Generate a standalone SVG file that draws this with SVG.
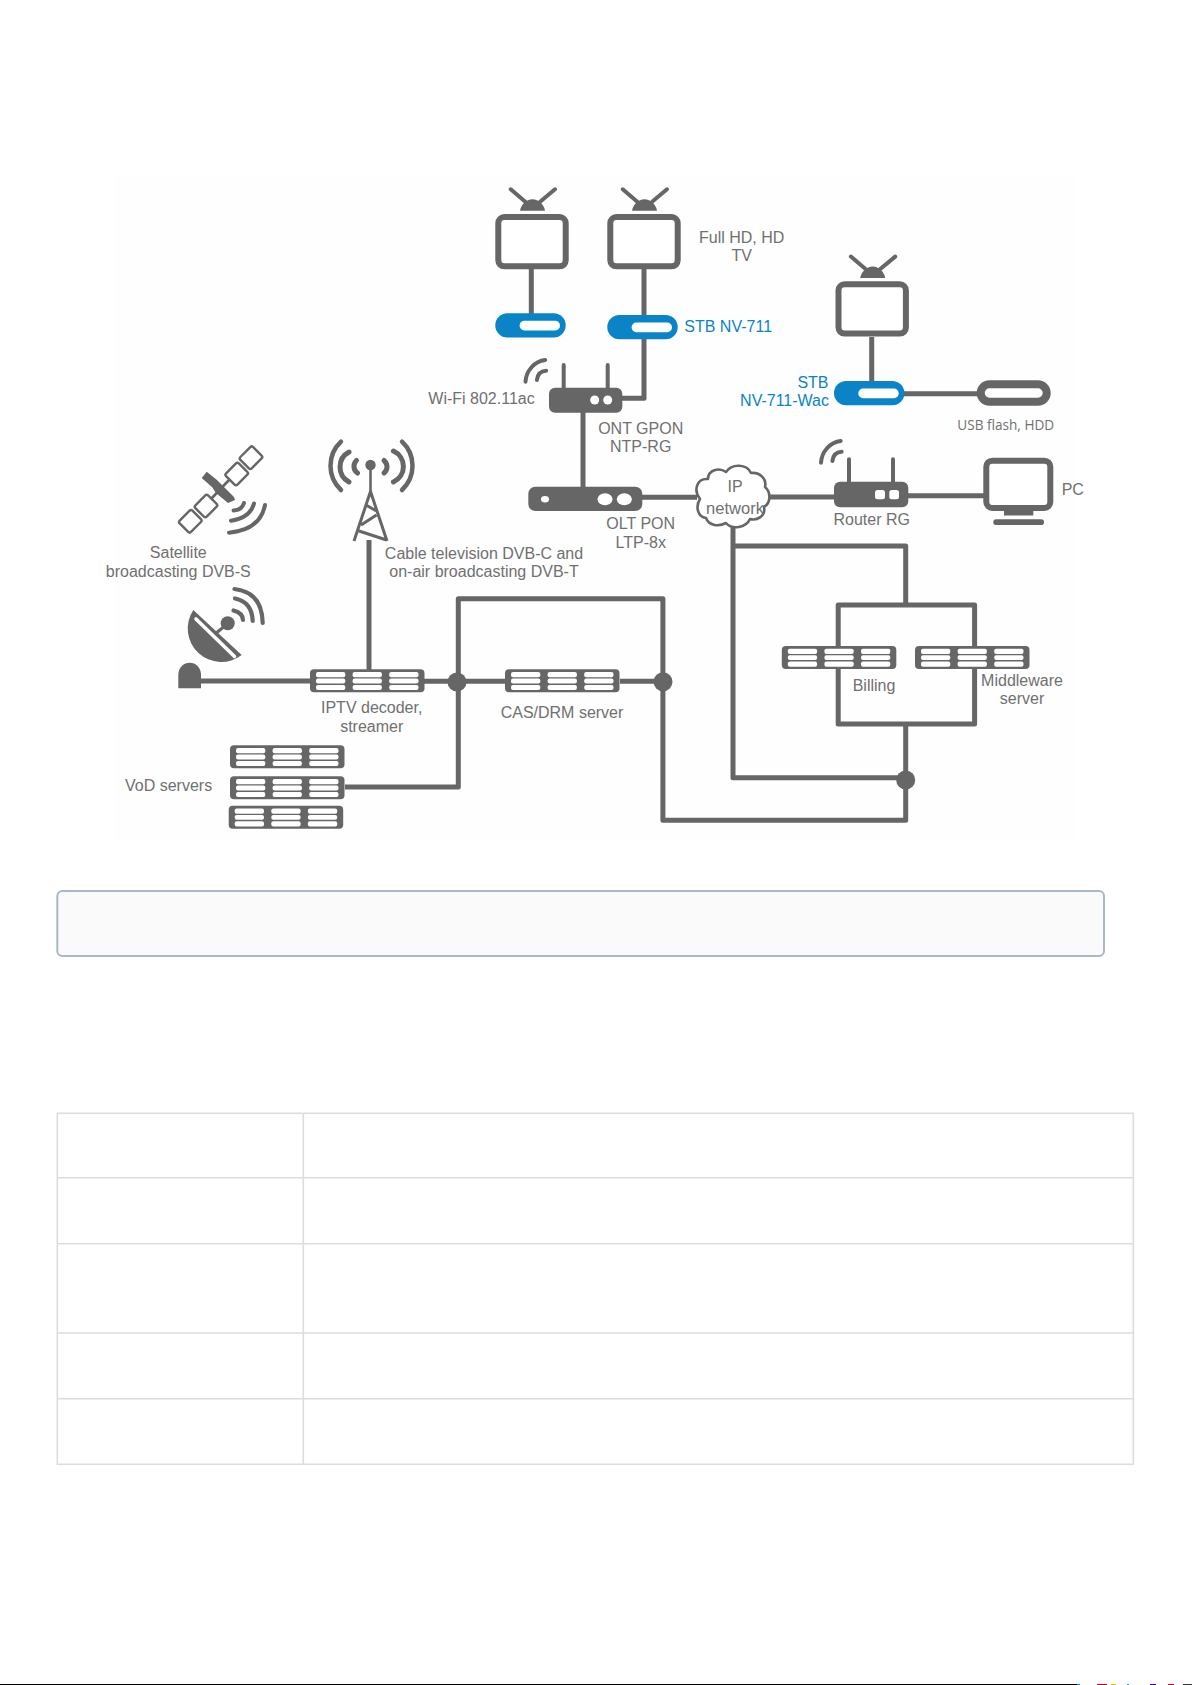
<svg xmlns="http://www.w3.org/2000/svg" xmlns:xlink="http://www.w3.org/1999/xlink" width="1192" height="1685" viewBox="0 0 1192 1685">
<style>
text{font-family:"Liberation Sans",Arial,sans-serif;font-size:16px;fill:#707070}
.c{text-anchor:middle}
text.b{fill:#0a84c6}
.r{text-anchor:end}
.ln{fill:none;stroke:#666;stroke-width:5;stroke-linejoin:round}
.arc{fill:none;stroke:#666;stroke-linecap:round}
.d{fill:#666}
.w{fill:#fff}
.tb{fill:none;stroke:#ddd;stroke-width:1.6}
</style>
<defs>
<g id="server">
<rect width="114.5" height="23" rx="4" class="d"/>
<g class="w">
<rect x="6" y="2.8" width="29.3" height="5.2" rx="2"/><rect x="6" y="9.3" width="29.3" height="4.8" rx="2"/><rect x="6" y="15.6" width="29.3" height="5.2" rx="2"/>
<rect x="42.6" y="2.8" width="29.3" height="5.2" rx="2"/><rect x="42.6" y="9.3" width="29.3" height="4.8" rx="2"/><rect x="42.6" y="15.6" width="29.3" height="5.2" rx="2"/>
<rect x="79.2" y="2.8" width="29.3" height="5.2" rx="2"/><rect x="79.2" y="9.3" width="29.3" height="4.8" rx="2"/><rect x="79.2" y="15.6" width="29.3" height="5.2" rx="2"/>
</g>
</g>
<g id="tv">
<rect x="3" y="3" width="67.4" height="49.3" rx="6" fill="#fff" stroke="#666" stroke-width="6"/>
<path d="M15.4-24.7 30-12.3M59.7-24.7 44.8-12.3" fill="none" stroke="#666" stroke-width="4" stroke-linecap="round"/>
<path d="M24.7-3.3C25.5-9 31-14.7 37.2-14.7S48.9-9 49.7-3.3Z" class="d"/>
</g>
<g id="stb">
<rect width="70.4" height="24.3" rx="12" fill="#0a84c6"/>
<rect x="24.3" y="7.5" width="40.4" height="9.7" rx="4.8" class="w"/>
</g>
<path id="wifi" class="arc" d="M0 21.7C.5 11 9 1 19.7 0M11.4 20C12 14.5 15 11 20.7 10.7" stroke-width="4"/>
<rect id="panel" x="-9" y="-8" width="18" height="16" rx="2" fill="#fff" stroke="#666" stroke-width="2.4"/>
</defs>

<rect width="1192" height="1685" fill="#fff"/>
<rect x="115" y="175" width="960" height="665" fill="#fefefe"/>

<g id="connectors" class="ln">
<path d="M531.3 269V315M644 269V315M644 339V398.3H622M583 412V487M642 497.3H697M770 497H835M908 495.7H985M871.7 337V382M904 393.7H978"/>
<path d="M733 527V777.7H905.7M733 546H905.7V605M838.2 646V605H974.6V646M838.2 669V724H974.6V669M905.7 724V820.3H662.9V598.7H458.3V787H345"/>
<path d="M201 681H310M424 681.3H505M620 681.3H663M369 540V670"/>
</g>

<g id="tv1"><use xlink:href="#tv" x="495.3" y="214"/><use xlink:href="#stb" x="495.3" y="313.3"/></g>
<g id="tv2"><use xlink:href="#tv" x="607.3" y="214"/><use xlink:href="#stb" x="607.3" y="315"/></g>
<g id="tv3"><use xlink:href="#tv" x="835.5" y="281.3"/><use xlink:href="#stb" x="834" y="381"/></g>

<g id="usb">
<rect x="980.7" y="384.3" width="66" height="17.4" rx="8.7" fill="#fff" stroke="#666" stroke-width="8"/>
</g>

<g id="ont">
<path d="M563.7 365V390M607.7 365V390" class="arc" stroke-width="4"/>
<rect x="549" y="387.7" width="73.3" height="25" rx="6" class="d"/>
<circle cx="594.7" cy="400" r="4.5" class="w"/><circle cx="607.7" cy="400" r="4.5" class="w"/>
<use xlink:href="#wifi" x="525.5" y="360"/>
</g>

<g id="olt">
<rect x="528.3" y="486.7" width="114" height="24.3" rx="7" class="d"/>
<ellipse cx="545" cy="499.3" rx="4" ry="3.2" class="w"/><ellipse cx="605" cy="499.3" rx="7.5" ry="6" class="w"/><ellipse cx="624.3" cy="499.3" rx="7.5" ry="6" class="w"/>
</g>

<g id="cloud">
<path d="M706 518C698 517 695 507 700 499C693 490 697 478 708 479C708 470 719 467 726 472C732 463 747 464 751 473C760 472 767 479 765 487C771 492 771 503 764 507C766 516 757 521 750 519C746 528 732 530 726 523C719 527 709 526 706 518Z" fill="#fff" stroke="#666" stroke-width="2.6" stroke-linejoin="round"/>
</g>

<g id="router">
<path d="M849 459.3V484M893 459.3V484" class="arc" stroke-width="4"/>
<rect x="834" y="481.7" width="74.3" height="25.6" rx="6" class="d"/>
<rect x="875" y="490" width="10" height="9.3" rx="2.5" class="w"/><rect x="889.3" y="490" width="9.7" height="9.3" rx="2.5" class="w"/>
<use xlink:href="#wifi" x="821" y="441"/>
</g>

<g id="pc">
<rect x="986.3" y="460.7" width="64" height="47.3" rx="6" fill="#fff" stroke="#666" stroke-width="6"/>
<rect x="1004" y="510" width="29.3" height="5.5" class="d"/>
<rect x="993.3" y="519.3" width="50.7" height="5.7" rx="2.8" class="d"/>
</g>

<g id="satellite">
<path d="M211 499 229 480" stroke="#666" stroke-width="2.6"/>
<use xlink:href="#panel" transform="translate(190.3 521.3) rotate(-45)"/>
<use xlink:href="#panel" transform="translate(206 506) rotate(-45)"/>
<use xlink:href="#panel" transform="translate(236.7 474) rotate(-45)"/>
<use xlink:href="#panel" transform="translate(251 457.7) rotate(-45)"/>
<path d="M206.7 471.7 201.7 478 212 487 216 493 228 503 235 500 234 497 222 485 217 480Z" class="d"/>
<g class="arc" stroke-width="4">
<path d="M233.5 510.5Q242 510 244 503"/>
<path d="M231 520.7Q250 518 254 503.5"/>
<path d="M229 532.7Q260 530 265 505"/>
</g>
</g>

<g id="tower">
<circle cx="370.5" cy="465" r="5.2" class="d"/>
<path d="M370.5 465V492" stroke="#666" stroke-width="2.6"/>
<path d="M354 541 370.5 491.5 387 541M366 505 376.5 511M376.5 515 361 525M359 531 386.5 540" fill="none" stroke="#666" stroke-width="3" stroke-linejoin="round"/>
<g class="arc">
<path d="M341 441.7A33 33 0 0 0 341 490M402 441.7A33 33 0 0 1 402 490" stroke-width="4.5"/>
<path d="M349 452A17 17 0 0 0 349 482M393.4 451A17 17 0 0 1 393.4 482" stroke-width="5"/>
<path d="M356.5 460.5A8 8 0 0 0 357.5 473M384 460.5A8 8 0 0 1 384 473" stroke-width="5"/>
</g>
</g>

<g id="dish">
<path d="M193.3 610 241.7 655A33.5 33.5 0 0 1 193.3 610Z" class="d"/>
<path d="M196 619 234.5 656.5" stroke="#fff" stroke-width="3.6" stroke-linecap="round"/>
<circle cx="227.7" cy="623.3" r="7" class="d"/>
<path d="M215 634 226 625" stroke="#666" stroke-width="3"/>
<path d="M178.3 688.3V675C178.3 667 184 662.7 189.7 662.7S201 667 201 675V688.3Z" class="d"/>
<g class="arc" stroke-width="4.2">
<path d="M233.5 610.5Q243 613 243 620"/>
<path d="M235 598.5Q252 602 252.7 621"/>
<path d="M234.5 589Q262 592 262.7 623"/>
</g>
</g>

<g id="nodes-servers">
<use xlink:href="#server" x="310" y="669.3"/>
<use xlink:href="#server" x="505" y="669.3"/>
<use xlink:href="#server" x="781.8" y="646"/>
<use xlink:href="#server" x="915" y="646"/>
<use xlink:href="#server" x="230" y="745.3"/>
<use xlink:href="#server" x="230" y="776.3"/>
<use xlink:href="#server" x="228.7" y="805.7"/>
<circle cx="457" cy="682" r="9.5" class="d"/>
<circle cx="663" cy="681.7" r="9.5" class="d"/>
<circle cx="905.7" cy="780" r="9.5" class="d"/>
</g>

<g id="labels">
<text class="c" x="741.7" y="243.3">Full HD, HD</text>
<text class="c" x="741.7" y="261.3">TV</text>
<text class="b" x="684.3" y="332.3">STB NV-711</text>
<text class="b r" x="828.5" y="387.7">STB</text>
<text class="b r" x="829" y="406">NV-711-Wac</text>
<text x="428.3" y="404.3">Wi-Fi 802.11ac</text>
<text class="c" x="640.7" y="434">ONT GPON</text>
<text class="c" x="640.7" y="452">NTP-RG</text>
<text class="c" x="640.7" y="529">OLT PON</text>
<text class="c" x="640.7" y="547.7">LTP-8x</text>
<text class="c" x="735" y="492.3">IP</text>
<text class="c" x="735" y="514" style="font-size:16.5px">network</text>
<text x="957.3" y="430" style="font-family:'Open Sans',sans-serif;font-size:13.6px">USB flash, HDD</text>
<text class="c" x="871.7" y="525">Router RG</text>
<text x="1061.7" y="495">PC</text>
<text class="c" x="178.3" y="558.3">Satellite</text>
<text class="c" x="178.3" y="576.7">broadcasting DVB-S</text>
<text class="c" x="484" y="559.3">Cable television DVB-C and</text>
<text class="c" x="484" y="577">on-air broadcasting DVB-T</text>
<text class="c" x="371.7" y="713.3">IPTV decoder,</text>
<text class="c" x="371.7" y="731.7">streamer</text>
<text class="c" x="562" y="718">CAS/DRM server</text>
<text x="125" y="791">VoD servers</text>
<text class="c" x="874" y="691">Billing</text>
<text class="c" x="1022" y="686">Middleware</text>
<text class="c" x="1022" y="704">server</text>
</g>

<rect id="callout" x="57.3" y="891" width="1046.7" height="65" rx="5" fill="#fafafa" stroke="#a8b8ca" stroke-width="2"/>

<g id="table" class="tb">
<rect x="57.3" y="1113.3" width="1076" height="351"/>
<path d="M303.3 1113.3V1464.3M57.3 1177.700H1133.3M57.3 1243.7H1133.3M57.3 1333H1133.3M57.3 1398.7H1133.3"/>
</g>

<g id="edge">
<rect x="0" y="1684" width="1077" height="1" fill="#000"/>
<rect x="1077" y="1684" width="3" height="1" fill="#08c"/>
<rect x="1097" y="1684" width="10" height="1" fill="#c03"/>
<rect x="1111" y="1684" width="5" height="1" fill="#dc0"/>
<rect x="1127" y="1684" width="2" height="1" fill="#0aa"/>
<rect x="1150" y="1684" width="6" height="1" fill="#30c"/>
<rect x="1168" y="1684" width="6" height="1" fill="#c03"/>
<rect x="1183" y="1684" width="9" height="1" fill="#333"/>
</g>
</svg>
